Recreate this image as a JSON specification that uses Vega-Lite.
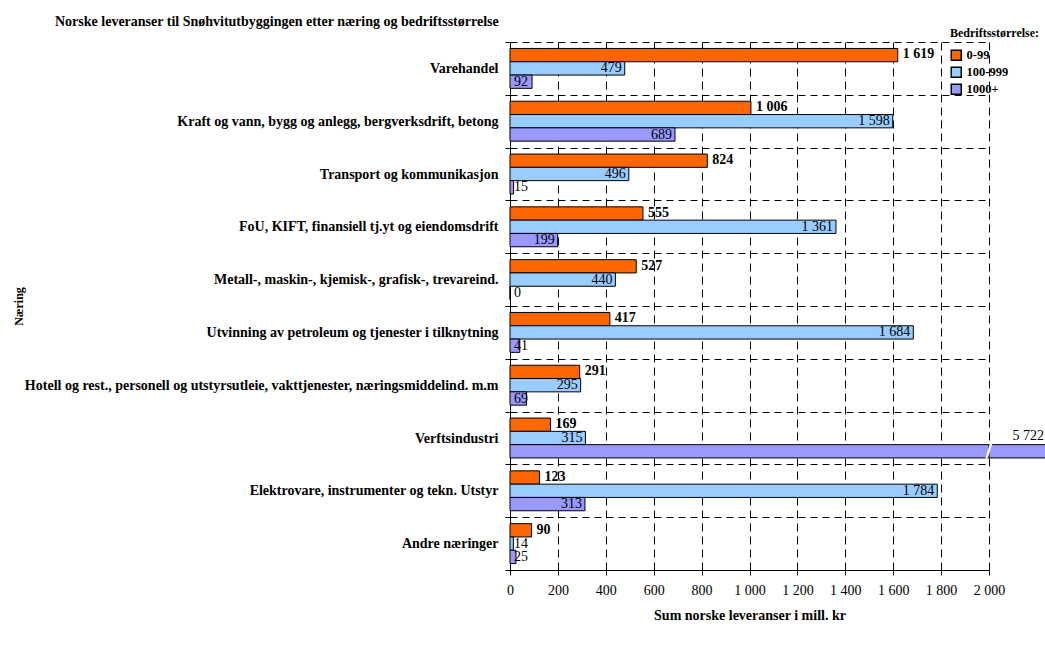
{
  "$schema": "https://vega.github.io/schema/vega-lite/v6.json",
  "width": 479,
  "height": 528,
  "padding": {"left": 12, "top": 15, "right": 0, "bottom": 5},
  "title": {
    "text": "Norske leveranser til Snøhvitutbyggingen etter næring og bedriftsstørrelse",
    "anchor": "start",
    "frame": "group",
    "dx": -455,
    "dy": 5,
    "fontSize": 14,
    "fontWeight": "bold",
    "color": "black",
    "font": "Liberation Serif"
  },
  "config": {
    "font": "Liberation Serif",
    "view": {"stroke": null}
  },
  "data": {
    "values": [
      {"naering": "Varehandel", "storrelse": "0-99", "verdi": 1619},
      {"naering": "Varehandel", "storrelse": "100-999", "verdi": 479},
      {"naering": "Varehandel", "storrelse": "1000+", "verdi": 92},
      {"naering": "Kraft og vann, bygg og anlegg, bergverksdrift, betong", "storrelse": "0-99", "verdi": 1006},
      {"naering": "Kraft og vann, bygg og anlegg, bergverksdrift, betong", "storrelse": "100-999", "verdi": 1598},
      {"naering": "Kraft og vann, bygg og anlegg, bergverksdrift, betong", "storrelse": "1000+", "verdi": 689},
      {"naering": "Transport og kommunikasjon", "storrelse": "0-99", "verdi": 824},
      {"naering": "Transport og kommunikasjon", "storrelse": "100-999", "verdi": 496},
      {"naering": "Transport og kommunikasjon", "storrelse": "1000+", "verdi": 15},
      {"naering": "FoU, KIFT, finansiell tj.yt og eiendomsdrift", "storrelse": "0-99", "verdi": 555},
      {"naering": "FoU, KIFT, finansiell tj.yt og eiendomsdrift", "storrelse": "100-999", "verdi": 1361},
      {"naering": "FoU, KIFT, finansiell tj.yt og eiendomsdrift", "storrelse": "1000+", "verdi": 199},
      {"naering": "Metall-, maskin-, kjemisk-, grafisk-, trevareind.", "storrelse": "0-99", "verdi": 527},
      {"naering": "Metall-, maskin-, kjemisk-, grafisk-, trevareind.", "storrelse": "100-999", "verdi": 440},
      {"naering": "Metall-, maskin-, kjemisk-, grafisk-, trevareind.", "storrelse": "1000+", "verdi": 0},
      {"naering": "Utvinning av petroleum og tjenester i tilknytning", "storrelse": "0-99", "verdi": 417},
      {"naering": "Utvinning av petroleum og tjenester i tilknytning", "storrelse": "100-999", "verdi": 1684},
      {"naering": "Utvinning av petroleum og tjenester i tilknytning", "storrelse": "1000+", "verdi": 41},
      {"naering": "Hotell og rest., personell og utstyrsutleie, vakttjenester, næringsmiddelind. m.m", "storrelse": "0-99", "verdi": 291},
      {"naering": "Hotell og rest., personell og utstyrsutleie, vakttjenester, næringsmiddelind. m.m", "storrelse": "100-999", "verdi": 295},
      {"naering": "Hotell og rest., personell og utstyrsutleie, vakttjenester, næringsmiddelind. m.m", "storrelse": "1000+", "verdi": 69},
      {"naering": "Verftsindustri", "storrelse": "0-99", "verdi": 169},
      {"naering": "Verftsindustri", "storrelse": "100-999", "verdi": 315},
      {"naering": "Verftsindustri", "storrelse": "1000+", "verdi": 5722},
      {"naering": "Elektrovare, instrumenter og tekn. Utstyr", "storrelse": "0-99", "verdi": 123},
      {"naering": "Elektrovare, instrumenter og tekn. Utstyr", "storrelse": "100-999", "verdi": 1784},
      {"naering": "Elektrovare, instrumenter og tekn. Utstyr", "storrelse": "1000+", "verdi": 313},
      {"naering": "Andre næringer", "storrelse": "0-99", "verdi": 90},
      {"naering": "Andre næringer", "storrelse": "100-999", "verdi": 14},
      {"naering": "Andre næringer", "storrelse": "1000+", "verdi": 25}
    ]
  },
  "transform": [
    {"calculate": "replace(format(datum.verdi, ',d'), ',', ' ')", "as": "tekst"}
  ],
  "encoding": {
    "y": {
      "field": "naering",
      "type": "nominal",
      "sort": null,
      "scale": {"paddingInner": 0, "paddingOuter": 0},
      "axis": {
        "title": "Næring",
        "titleFontSize": 12,
        "titleFontWeight": "bold",
        "titleColor": "black",
        "titlePadding": 285,
        "tickBand": "extent",
        "grid": true,
        "gridDash": [7, 5],
        "gridColor": "black",
        "domainColor": "black",
        "tickColor": "black",
        "tickSize": 5,
        "labelColor": "black",
        "labelFontSize": 14,
        "labelFontWeight": "bold",
        "labelLimit": 700,
        "labelPadding": 7
      }
    },
    "x": {
      "field": "verdi",
      "type": "quantitative",
      "title": "Sum norske leveranser i mill. kr",
      "scale": {"domain": [0, 2000], "clamp": true, "nice": false},
      "axis": {
        "values": [0, 200, 400, 600, 800, 1000, 1200, 1400, 1600, 1800, 2000],
        "labelExpr": "replace(datum.label, ',', ' ')",
        "grid": true,
        "gridDash": [8, 5],
        "gridColor": "black",
        "domainColor": "black",
        "tickColor": "black",
        "tickSize": 5,
        "labelColor": "black",
        "labelFontSize": 14,
        "labelPadding": 8,
        "labelFlush": false,
        "labelOverlap": false,
        "titleColor": "black",
        "titleFontSize": 14,
        "titleFontWeight": "bold",
        "titlePadding": 11
      }
    },
    "color": {
      "field": "storrelse",
      "type": "nominal",
      "scale": {"domain": ["0-99", "100-999", "1000+"], "range": ["#FF6600", "#99CCFF", "#9999FF"]},
      "legend": {
        "orient": "none",
        "legendX": 440,
        "legendY": -14,
        "title": "Bedriftsstørrelse:",
        "titleFontSize": 12,
        "titleFontWeight": "bold",
        "titleColor": "black",
        "titlePadding": 9,
        "labelFontSize": 12.5,
        "labelFontWeight": "bold",
        "labelColor": "black",
        "symbolSize": 100,
        "rowPadding": 0
      }
    }
  },
  "layer": [
    {
      "transform": [{"filter": "datum.storrelse == '0-99'"}],
      "mark": {"type": "bar", "stroke": "black", "strokeWidth": 1, "height": 13.3, "yOffset": -13.3}
    },
    {
      "transform": [{"filter": "datum.storrelse == '100-999'"}],
      "mark": {"type": "bar", "stroke": "black", "strokeWidth": 1, "height": 13.3, "yOffset": 0}
    },
    {
      "transform": [{"filter": "datum.storrelse == '1000+'"}],
      "mark": {"type": "bar", "stroke": "black", "strokeWidth": 1, "height": 13.3, "yOffset": 13.3}
    },
    {
      "transform": [{"filter": "datum.verdi > 2000"}],
      "mark": {"type": "bar", "stroke": "black", "strokeWidth": 1, "height": 13.3, "yOffset": 13.3, "x2Offset": 58},
      "encoding": {
        "x": {"datum": 2000, "type": "quantitative"},
        "x2": {"datum": 2000}
      }
    },
    {
      "transform": [{"filter": "datum.verdi > 2000"}],
      "mark": {"type": "text", "text": "/", "font": "DejaVu Sans", "fontWeight": "bold", "fontSize": 21, "align": "center", "baseline": "middle", "yOffset": 13.3},
      "encoding": {
        "x": {"datum": 2000, "type": "quantitative"},
        "color": {"value": "white"}
      }
    },
    {
      "transform": [{"filter": "datum.verdi > 2000"}],
      "mark": {"type": "text", "align": "right", "baseline": "middle", "dx": 55, "yOffset": -2, "fontSize": 14},
      "encoding": {
        "x": {"datum": 2000, "type": "quantitative"},
        "text": {"field": "tekst"},
        "color": {"value": "black"}
      }
    },
    {
      "transform": [{"filter": "datum.storrelse == '0-99'"}],
      "mark": {"type": "text", "align": "left", "baseline": "middle", "dx": 5, "yOffset": -14, "fontSize": 14, "fontWeight": "bold"},
      "encoding": {
        "text": {"field": "tekst"},
        "color": {"value": "black"}
      }
    },
    {
      "transform": [{"filter": "datum.storrelse == '100-999' && datum.verdi >= 100"}],
      "mark": {"type": "text", "align": "right", "baseline": "middle", "dx": -3, "yOffset": 0, "fontSize": 14},
      "encoding": {
        "text": {"field": "tekst"},
        "color": {"value": "black"}
      }
    },
    {
      "transform": [{"filter": "datum.storrelse == '1000+' && datum.verdi >= 100 && datum.verdi <= 2000"}],
      "mark": {"type": "text", "align": "right", "baseline": "middle", "dx": -3, "yOffset": 13.3, "fontSize": 14},
      "encoding": {
        "text": {"field": "tekst"},
        "color": {"value": "black"}
      }
    },
    {
      "transform": [{"filter": "datum.storrelse == '100-999' && datum.verdi < 100"}],
      "mark": {"type": "text", "align": "left", "baseline": "middle", "dx": 4, "yOffset": 0, "fontSize": 14},
      "encoding": {
        "x": {"datum": 0, "type": "quantitative"},
        "text": {"field": "tekst"},
        "color": {"value": "black"}
      }
    },
    {
      "transform": [{"filter": "datum.storrelse == '1000+' && datum.verdi < 100"}],
      "mark": {"type": "text", "align": "left", "baseline": "middle", "dx": 4, "yOffset": 13.3, "fontSize": 14},
      "encoding": {
        "x": {"datum": 0, "type": "quantitative"},
        "text": {"field": "tekst"},
        "color": {"value": "black"}
      }
    }
  ]
}
